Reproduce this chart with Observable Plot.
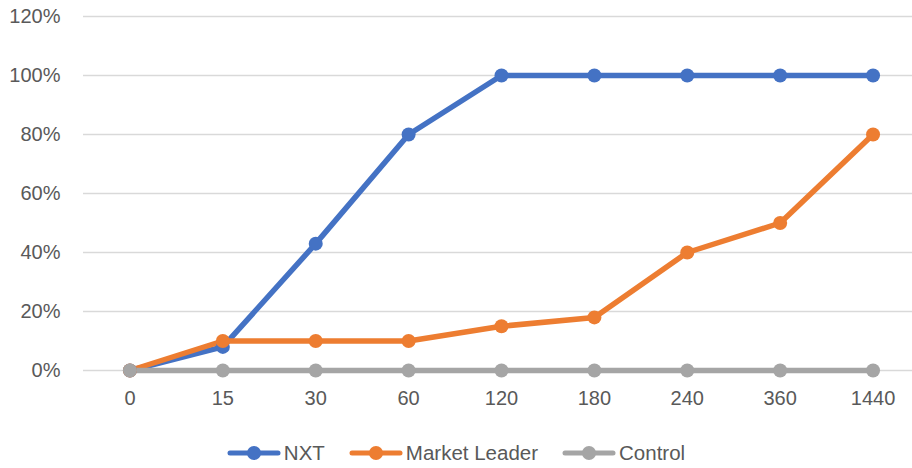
<!DOCTYPE html>
<html>
<head>
<meta charset="utf-8">
<script src="https://cdn.jsdelivr.net/npm/d3@7"></script>
<script src="https://cdn.jsdelivr.net/npm/@observablehq/plot@0.6"></script>
<style>
  body { margin: 0; background: #fff; font-family: "Liberation Sans", Arial, sans-serif; }
  #legend { display: flex; justify-content: center; align-items: center; height: 24px; margin-top: 31px; padding-left: 0px; font-size: 20.5px; color: #595959; }
  .item { display: flex; align-items: center; margin: 0 12px; }
  .item svg { margin-right: 3px; }
</style>
</head>
<body>
<div id="chart"></div>
<div id="legend"></div>
<script>
const times = ["0", "15", "30", "60", "120", "180", "240", "360", "1440"];
const nxt = [0, 0.08, 0.43, 0.80, 1.00, 1.00, 1.00, 1.00, 1.00];
const marketLeader = [0, 0.10, 0.10, 0.10, 0.15, 0.18, 0.40, 0.50, 0.80];
const control = [0, 0, 0, 0, 0, 0, 0, 0, 0];
const seriesNames = ["NXT", "Market Leader", "Control"];
const seriesColors = ["#4472C4", "#ED7D31", "#A5A5A5"];
const yTicks = [0, 0.2, 0.4, 0.6, 0.8, 1.0, 1.2];

const allSeries = [nxt, marketLeader, control];
const data = [];
allSeries.forEach((vals, si) => vals.forEach((v, i) => data.push({series: seriesNames[si], time: times[i], value: v})));

const chart = Plot.plot({
  width: 912,
  height: 410,
  marginTop: 16,
  marginBottom: 40,
  marginLeft: 83,
  marginRight: 0,
  style: { fontFamily: "Liberation Sans, Arial, sans-serif", fontSize: "20px", color: "#595959" },
  x: { type: "point", domain: times, padding: 0.5, round: false, range: [83, 919], label: null },
  y: { domain: [0, 1.2], ticks: yTicks, label: null, tickFormat: d => Math.round(d * 100) + "%" },
  color: { domain: seriesNames, range: seriesColors },
  marks: [
    Plot.ruleY(yTicks, { stroke: "#D9D9D9", strokeWidth: 1.5 }),
    Plot.axisY({ ticks: yTicks, tickSize: 0, tickPadding: 23, tickFormat: d => Math.round(d * 100) + "%", fill: "#595959", fontSize: 20 }),
    Plot.axisX({ tickSize: 0, tickPadding: 20, fill: "#595959", fontSize: 20 }),
    Plot.line(data, { x: "time", y: "value", stroke: "series", strokeWidth: 5.5, strokeLinecap: "round", strokeLinejoin: "round", z: "series" }),
    Plot.dot(data, { x: "time", y: "value", fill: "series", r: 7 })
  ]
});
document.getElementById("chart").appendChild(chart);

const legend = document.getElementById("legend");
seriesNames.forEach((name, i) => {
  const item = document.createElement("div");
  item.className = "item";
  item.innerHTML = `<svg width="54" height="16"><line x1="3" y1="8" x2="51" y2="8" stroke="${seriesColors[i]}" stroke-width="5" stroke-linecap="round"/><circle cx="27" cy="8" r="7" fill="${seriesColors[i]}"/></svg><span>${name}</span>`;
  legend.appendChild(item);
});
</script>
</body>
</html>
